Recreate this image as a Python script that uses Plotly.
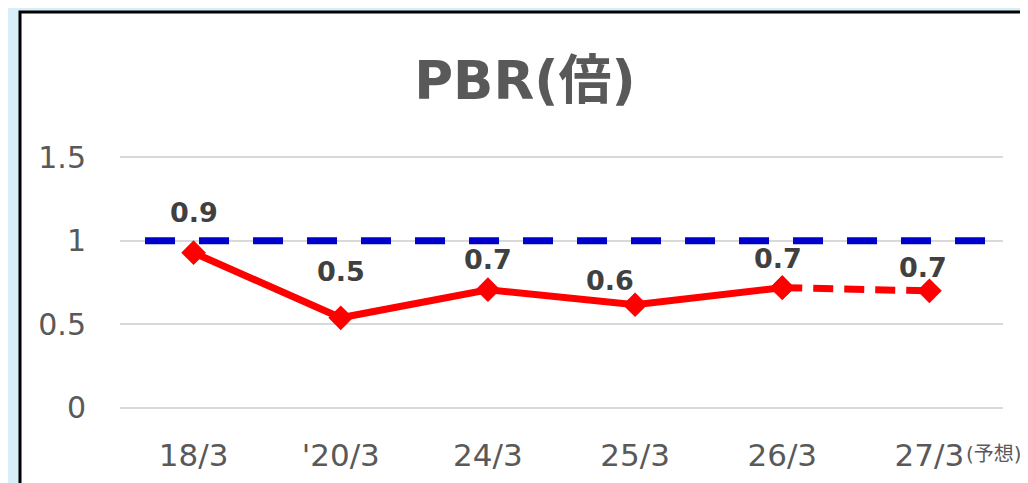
import plotly.graph_objects as go

# ---- data ----
categories = ["18/3", "'20/3", "24/3", "25/3", "26/3", "27/3"]
pbr_values = [0.928, 0.539, 0.707, 0.617, 0.719, 0.70]
actual_count = 5            # first 5 points are actual, last is forecast
benchmark_x = [-0.33, 5.5]
benchmark_y = [1.0, 1.0]
forecast_note = "(予想)"
y_ticks = [0, 0.5, 1, 1.5]
y_tick_labels = ["0", "0.5", "1", "1.5"]
title_text = "PBR(倍)"

# ---- style ----
FONT = "DejaVu Sans, Noto Sans CJK JP, sans-serif"
RED = "#ff0000"
BLUE = "#0000cc"
GRAY_TXT = "#595959"
LABEL_TXT = "#404040"
label_dx = [0, 0, 0, -25, -4, -6]
label_dy = [40, 46, 30, 24, 29, 23]

x_idx = list(range(len(categories)))

fig = go.Figure()

# benchmark line (PBR 1.0)
fig.add_trace(go.Scatter(
    x=benchmark_x, y=benchmark_y, mode="lines",
    line=dict(color=BLUE, width=7, dash="30px,24px"),
    hoverinfo="skip", showlegend=False))

# forecast segment
fig.add_trace(go.Scatter(
    x=x_idx[actual_count - 1:], y=pbr_values[actual_count - 1:],
    mode="lines+markers",
    line=dict(color=RED, width=7, dash="20px,11px"),
    marker=dict(symbol="diamond", size=19, color=RED),
    showlegend=False))

# actual segment
fig.add_trace(go.Scatter(
    x=x_idx[:actual_count], y=pbr_values[:actual_count],
    mode="lines+markers",
    line=dict(color=RED, width=7),
    marker=dict(symbol="diamond", size=19, color=RED),
    showlegend=False))

# data labels
for i, v in enumerate(pbr_values):
    fig.add_annotation(
        x=x_idx[i], y=v, text=f"<b>{v:.1f}</b>", showarrow=False,
        xshift=label_dx[i], yshift=label_dy[i],
        font=dict(family=FONT, size=27, color=LABEL_TXT))

# forecast note next to last tick label
fig.add_annotation(
    x=x_idx[-1], y=0, yref="y", text=forecast_note, showarrow=False,
    xanchor="left", yanchor="middle", xshift=35, yshift=-46,
    font=dict(family=FONT, size=20, color=GRAY_TXT))

# page has an 8px body margin; figure coordinates are window minus 8
W, H = 1020, 475
L, R, T, B = 112, 25, 144, 70
pw, ph = W - L - R, H - T - B

# white chart frame with black border, over light blue page background
fig.add_shape(type="rect", xref="paper", yref="paper",
              x0=(12 - L) / pw, x1=1.3,
              y0=-1.0, y1=(H - B - 4) / ph,
              fillcolor="white", line=dict(color="black", width=3),
              layer="below")

fig.update_layout(
    width=W, height=H,
    margin=dict(l=L, r=R, t=T, b=B, autoexpand=False),
    paper_bgcolor="#d8eef8",
    plot_bgcolor="rgba(0,0,0,0)",
    title=dict(text=f"<b>{title_text}</b>", xref="container", yref="container",
               x=(525 - 8) / W, y=1 - (80 - 8) / H, xanchor="center", yanchor="middle",
               font=dict(family=FONT, size=53, color=GRAY_TXT), automargin=False),
    xaxis=dict(range=[-0.5, 5.5], tickmode="array", tickvals=x_idx,
               ticktext=categories, showgrid=False, zeroline=False,
               showline=False, ticks="outside", ticklen=15, automargin=False,
               tickcolor="rgba(0,0,0,0)",
               tickfont=dict(family=FONT, size=31, color=GRAY_TXT)),
    yaxis=dict(range=[-0.03, 1.53], tickmode="array", tickvals=y_ticks,
               ticktext=y_tick_labels, showgrid=True, gridcolor="#d9d9d9",
               gridwidth=2, zeroline=False, showline=False, automargin=False,
               ticks="outside", ticklen=27, tickcolor="rgba(0,0,0,0)",
               tickfont=dict(family=FONT, size=30, color=GRAY_TXT)),
)

fig.write_html("out.html")
